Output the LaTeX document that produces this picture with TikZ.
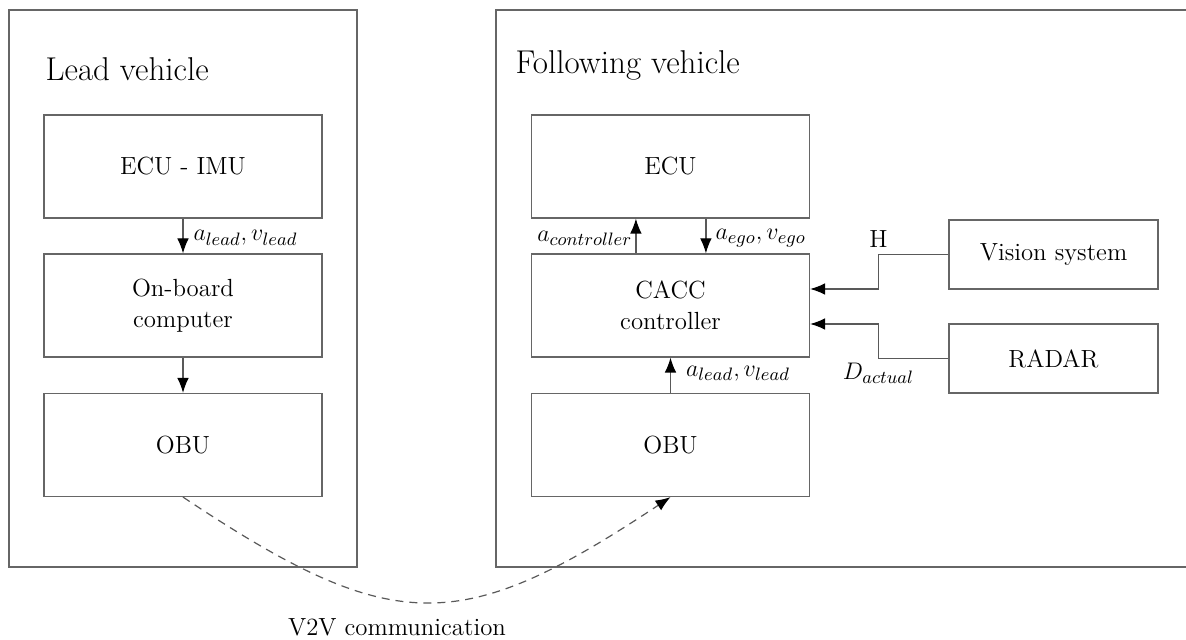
\documentclass[tikz,border=0pt]{standalone}
\usetikzlibrary{arrows.meta,calc}
\begin{document}
\begin{tikzpicture}[x=0.5pt,y=-0.5pt,
  line width=0.6pt,
  every node/.style={font=\fontsize{12.4}{15.5}\selectfont},
  blk/.style={draw=black!60, minimum width=139pt, minimum height=51.5pt, align=center, inner sep=0pt},
  sblk/.style={draw=black!60, minimum width=104.5pt, minimum height=34.5pt, inner sep=0pt},
  frame/.style={draw=black!60},
  arr/.style={draw=black!65, -{Latex[length=7.5pt,width=5.8pt,black]}},
  title/.style={anchor=base west, inner sep=0pt, font=\fontsize{16.5}{19}\selectfont},
  lbl/.style={inner sep=2pt}]
\useasboundingbox (0,0) rectangle (1186,640);
\clip (0,0) rectangle (1186,640);
% outer frames
\draw[frame] (9,10) rectangle (357,567);
\draw[frame] (1200,10) -- (496,10) -- (496,567) -- (1200,567);
\node[title] (tL) at (45,81) {Lead vehicle};
\node[title] (tF) at (515,74) {Following vehicle};
% lead vehicle
\node[blk] (ecuL) at (183,166.5) {ECU - IMU};
\node[blk] (obcL) at (183,305.5) {On-board\\computer};
\node[blk] (obuL) at (183,445) {OBU};
\draw[arr] (ecuL.south) -- node[right,lbl,xshift=3pt,yshift=-1pt] {$a_{lead}, v_{lead}$} (obcL.north);
\draw[arr] (obcL.south) -- (obuL.north);
% following vehicle
\node[blk] (ecuF) at (670.5,166.5) {ECU};
\node[blk] (cacc) at (670.5,305.5) {CACC\\controller};
\node[blk] (obuF) at (670.5,445) {OBU};
\node[sblk] (vis) at (1053.5,254.5) {Vision system};
\node[sblk] (rad) at (1053.5,358.5) {RADAR};
\draw[arr] ([xshift=-17.3pt]cacc.north) -- node[left,lbl,xshift=0.5pt,yshift=-1pt] {$a_{controller}$} ([xshift=-17.3pt]ecuF.south);
\draw[arr] ([xshift=17.7pt]ecuF.south) -- node[right,lbl,xshift=2.5pt,yshift=-1pt] {$a_{ego}, v_{ego}$} ([xshift=17.7pt]cacc.north);
\draw[arr] (obuF.north) -- node[right,lbl,yshift=1pt,xshift=5.5pt] {$a_{lead}, v_{lead}$} (cacc.south);
\draw[arr] (vis.west) -- ++(-70,0) coordinate (hc) |- ([yshift=8.25pt]cacc.east);
\node[above,inner sep=3pt] (hl) at (hc) {H};
\draw[arr] (rad.west) -- ++(-70,0) coordinate (dc) |- ([yshift=-9.25pt]cacc.east);
\node[below,inner sep=2pt] (dl) at (dc) {$D_{actual}$};
% V2V
\draw[arr, dashed, dash pattern=on 4pt off 3pt] (obuL.south) .. controls (393,637) and (460,637) .. (obuF.south);
\node (v2v) at (397,627) {V2V communication};
\end{tikzpicture}
\end{document}
